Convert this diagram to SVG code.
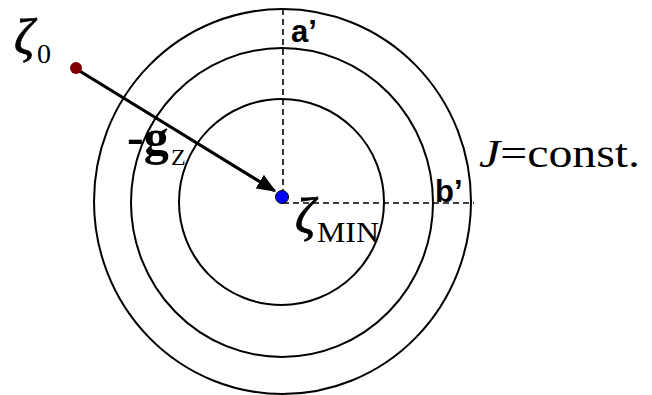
<svg xmlns="http://www.w3.org/2000/svg" width="652" height="395" viewBox="0 0 652 395">
<style>
.ring{fill:none;stroke:#000;stroke-width:2}
.dash{fill:none;stroke:#000;stroke-width:1.6;stroke-dasharray:6 4}
.serif{font-family:"Liberation Serif","Times New Roman",serif;fill:#000}
.zeta{font-family:"Liberation Serif","Times New Roman",serif;font-style:italic;font-size:50px;fill:#000;stroke:#000;stroke-width:0.8}
.sans{font-family:"Liberation Sans",Arial,sans-serif;font-weight:bold;fill:#000}
</style>
<defs>
<marker id="ah" markerWidth="6" markerHeight="5" refX="5.6" refY="2.5" orient="auto" markerUnits="strokeWidth">
<path d="M0,0 L6,2.5 L0,5 Z" fill="#000"/>
</marker>
</defs>
<rect width="652" height="395" fill="#fff"/>
<g id="contours">
<ellipse class="ring" cx="282.5" cy="201.5" rx="188.5" ry="192.5"/>
<ellipse class="ring" cx="282" cy="202.5" rx="151" ry="154.5"/>
<ellipse class="ring" cx="281.5" cy="202" rx="102.5" ry="103"/>
</g>
<g id="connectors">
<line class="dash" x1="283" y1="9" x2="283" y2="191"/>
<line class="dash" x1="283" y1="203" x2="474" y2="203"/>
<line x1="78" y1="70" x2="275" y2="191" stroke="#000" stroke-width="3.2" marker-end="url(#ah)"/>
</g>
<g id="start">
<circle cx="76" cy="68" r="6" fill="#800000"/>
<text class="zeta" x="14" y="54">ζ</text>
<text class="serif" x="37" y="63" font-size="28">0</text>
</g>
<g id="minimum">
<circle cx="282" cy="197" r="6.5" fill="#0000ff" stroke="#000" stroke-width="1"/>
<text class="zeta" x="295" y="233">ζ</text>
<text class="serif" x="317" y="242" font-size="29" textLength="62" lengthAdjust="spacingAndGlyphs">MIN</text>
</g>
<g id="gradient-label">
<text class="serif" x="127" y="154" font-size="50" font-weight="bold">-g</text>
<text class="serif" x="171" y="165" font-size="24">Z</text>
</g>
<g id="label-a">
<text class="sans" x="291" y="42" font-size="31">a’</text>
</g>
<g id="label-b">
<text class="sans" x="435" y="202" font-size="31">b’</text>
</g>
<g id="label-J">
<text class="serif" x="479" y="167" font-size="40" textLength="161" lengthAdjust="spacingAndGlyphs"><tspan font-style="italic">J</tspan>=const.</text>
</g>
</svg>
